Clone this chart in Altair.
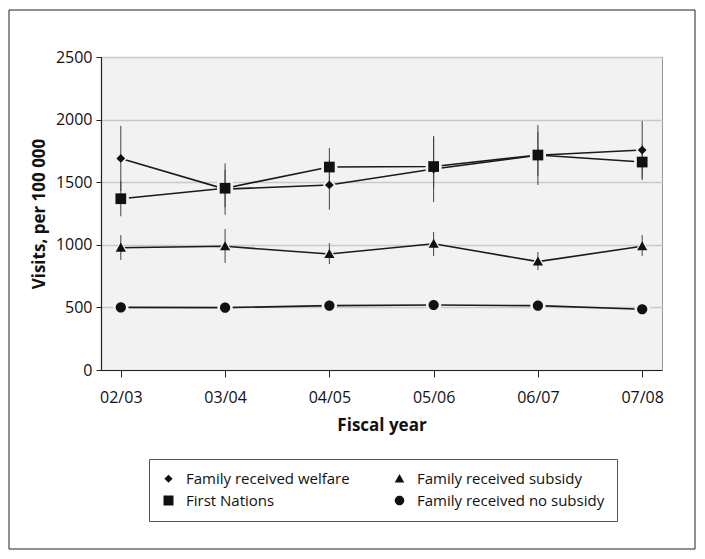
import altair as alt
import pandas as pd

years = ["02/03", "03/04", "04/05", "05/06", "06/07", "07/08"]
# legend fills column by column: welfare / First Nations, then subsidy / no subsidy
series_names = ["Family received welfare", "First Nations",
                "Family received subsidy", "Family received no subsidy"]

welfare = [1690, 1445, 1478, 1605, 1715, 1757]
welfare_lo = [1430, 1240, 1280, 1340, 1478, 1517]
welfare_hi = [1950, 1650, 1680, 1860, 1957, 1989]

first_nations = [1368, 1452, 1621, 1625, 1717, 1661]
first_nations_lo = [1228, 1300, 1480, 1450, 1550, 1530]
first_nations_hi = [1510, 1600, 1773, 1869, 1900, 1800]

subsidy = [977, 988, 926, 1008, 866, 988]
subsidy_lo = [879, 855, 847, 911, 799, 911]
subsidy_hi = [1078, 1126, 1014, 1102, 942, 1078]

no_subsidy = [500, 498, 514, 519, 514, 485]
no_subsidy_lo = [485, 483, 499, 504, 499, 470]
no_subsidy_hi = [515, 513, 529, 534, 529, 500]

# marker outlines (unit box -1..1): diamond, square, triangle, circle
shapes = [
    "M0,-0.82L0.82,0L0,0.82L-0.82,0Z",
    "M-1,-1L1,-1L1,1L-1,1Z",
    "M0,-0.95L0.95,0.75L-0.95,0.75Z",
    "M0.95,0A0.95,0.95 0 1,1 -0.95,0A0.95,0.95 0 1,1 0.95,0Z",
]

rows = []
for name, vals, lo, hi in [
    (series_names[0], welfare, welfare_lo, welfare_hi),
    (series_names[1], first_nations, first_nations_lo, first_nations_hi),
    (series_names[2], subsidy, subsidy_lo, subsidy_hi),
    (series_names[3], no_subsidy, no_subsidy_lo, no_subsidy_hi),
]:
    for i, yr in enumerate(years):
        rows.append({"year": yr, "series": name, "halo": name, "value": vals[i],
                     "lo": lo[i], "hi": hi[i], "order": i})
df = pd.DataFrame(rows)

FONT = "Open Sans"

x_enc = alt.X("year:N", sort=years,
              scale=alt.Scale(type="point", domain=years, padding=0.19),
              axis=alt.Axis(title="Fiscal year", labelAngle=0, grid=False,
                            tickSize=7, labelPadding=12, titlePadding=12,
                            labelFontSize=16, titleFontSize=17))
y_enc = alt.Y("value:Q", scale=alt.Scale(domain=[0, 2500], nice=False),
              axis=alt.Axis(title="Visits, per 100 000", format="d",
                            values=[0, 500, 1000, 1500, 2000, 2500],
                            grid=True, gridColor="#c9c9c9", gridWidth=1.5,
                            tickSize=5, labelPadding=4, titlePadding=7,
                            labelFontSize=16, titleFontSize=17))

base = alt.Chart(df)

lines = base.mark_line(color="#1a1a1a", strokeWidth=1.6).encode(
    x=x_enc, y=y_enc, detail="series:N", order="order:Q")

halo = base.mark_point(filled=True, color="#f2f2f2", opacity=1, size=260).encode(
    x=x_enc, y=y_enc,
    shape=alt.Shape("halo:N", scale=alt.Scale(domain=series_names, range=shapes), legend=None))

errs = base.mark_rule(color="#444444", strokeWidth=1).encode(
    x=x_enc, y="lo:Q", y2="hi:Q")

points = base.mark_point(filled=True, color="#111111", opacity=1, size=115).encode(
    x=x_enc, y=y_enc,
    shape=alt.Shape("series:N", scale=alt.Scale(domain=series_names, range=shapes),
                    legend=alt.Legend(title=None, orient="none", legendX=48, legendY=402,
                                      columns=2, columnPadding=42, rowPadding=6,
                                      padding=12, strokeColor="#555555",
                                      labelFont=FONT, labelFontSize=15, labelColor="#111111",
                                      symbolSize=100, symbolFillColor="#111111",
                                      symbolStrokeWidth=0, labelOffset=10,
                                      labelLimit=400)))

frame = alt.Chart(alt.Data(values=[{}])).mark_rect(
    fill=None, stroke="#222222", strokeWidth=1).encode(
    x=alt.value(-92), x2=alt.value(594), y=alt.value(-47), y2=alt.value(492))

chart = alt.layer(frame, lines, halo, errs, points).resolve_scale(
    shape="independent"
).properties(
    width=561, height=313,
    autosize=alt.AutoSizeParams(type="none"),
    padding={"left": 93, "top": 49, "right": 35, "bottom": 181},
    background="white",
).configure_view(
    fill="#f2f2f2", stroke="#9a9a9a", strokeWidth=1
).configure_axis(
    labelFont=FONT, labelColor="#111111",
    titleFont=FONT, titleFontWeight="bold", titleColor="#111111",
    tickColor="#222222", domainColor="#222222", domainWidth=1.2
)

chart.save("out.html", embed_options={"renderer": "svg", "actions": False})
